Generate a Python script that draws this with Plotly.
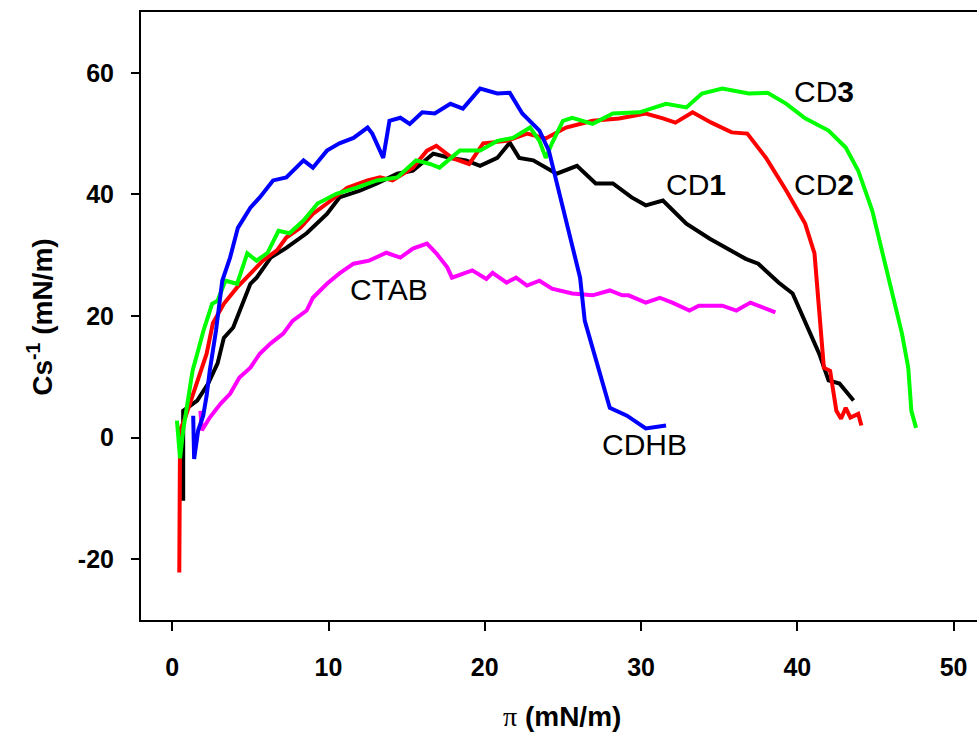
import plotly.graph_objects as go

# ---- data ----
cd1_x = [0.7, 0.7, 0.7, 1.6, 2.3, 2.9, 3.3, 3.9, 4.5, 5.0, 5.4, 6.3, 7.3, 8.6, 9.9, 10.7, 12.0, 13.1, 14.4, 15.4,
         16.7, 17.8, 18.8, 19.7, 20.8, 21.6, 22.2, 23.1, 24.6, 25.9, 27.1, 28.2, 29.4, 30.3, 31.4, 32.9, 34.4,
         36.7, 37.5, 38.8, 39.7, 40.5, 41.4, 42.0, 42.7, 43.6]
cd1_y = [-10.4, -3, 4.4, 6.1, 8.9, 12.2, 16.4, 18.1, 22, 25.3, 26.3, 29.6, 31.2, 33.6, 36.8, 39.5, 40.6, 41.8,
         43.4, 43.9, 46.7, 46, 45.6, 44.7, 46, 48.5, 46, 45.6, 43.4, 44.7, 41.8, 41.8, 39.5, 38.2, 39.0, 35.2,
         32.7, 29.4, 28.6, 25.5, 23.7, 19.2, 13.8, 9.4, 8.9, 6.1]

cd2_x = [0.45, 0.45, 0.5, 0.83, 1.6, 2.2, 2.6, 3.3, 4.15, 5.2, 5.8, 6.7, 7.3, 8.2, 9.0, 9.9, 11.2, 12.5, 13.3,
         14.1, 15.4, 16.3, 16.9, 17.9, 19.0, 19.9, 21.4, 22.7, 23.9, 25.2, 26.9, 28.6, 30.3, 31.4, 32.2, 33.3,
         34.5, 35.8, 36.8, 38.0, 39.3, 40.5, 41.1, 41.4, 41.7, 42.1, 42.5, 42.8, 43.1, 43.4, 43.9, 44.1]
cd2_y = [-22.2, -13.7, 1.2, 3.3, 9.4, 13.8, 18.8, 22, 24.7, 27.5, 29.1, 30.8, 32.9, 34.5, 36.8, 38.5, 41.1,
         42.3, 42.8, 42.3, 44.4, 47.2, 48.0, 46, 45, 48.4, 48.8, 50, 49.2, 51, 52.1, 52.5, 53.3, 52.5, 51.8,
         53.5, 51.8, 50.2, 50, 46, 40.6, 35.2, 30.3, 20.9, 11.5, 11, 4.4, 3.1, 4.9, 3.3, 3.9, 2.0]

cd3_x = [0.3, 0.5, 0.7, 1.3, 1.6, 2.0, 2.55, 2.9, 3.4, 4.15, 4.8, 5.4, 6.1, 6.8, 7.5, 8.4, 9.3, 10.5, 11.8,
         13.1, 14.4, 15.6, 16.5, 17.1, 18.4, 19.7, 20.8, 21.8, 22.9, 23.5, 23.9, 24.3, 25.0, 25.6, 26.9, 28.2,
         29.9, 31.6, 32.9, 33.9, 35.2, 36.9, 38.1, 39.3, 40.5, 42.0, 43.1, 43.9, 44.8, 45.8, 46.7, 47.1, 47.3, 47.6]
cd3_y = [2.8, -3.4, 1.2, 11, 13.8, 17.6, 22, 22.5, 25.8, 25.3, 30.3, 29.1, 30.4, 34, 33.6, 35.7, 38.5, 40.1,
         41.1, 42.3, 42.8, 45.6, 45, 44.4, 47.2, 47.2, 48.8, 49.3, 51, 48.8, 46, 48.4, 52.1, 52.6, 51.6, 53.3,
         53.5, 54.9, 54.3, 56.6, 57.4, 56.6, 56.7, 54.9, 52.5, 50.5, 47.7, 43.9, 37.3, 26.3, 17.1, 11.5, 4.4, 1.6]

cdhb_x = [1.34, 1.4, 1.66, 1.98, 2.2, 2.4, 2.8, 3.2, 3.7, 4.2, 5.0, 5.6, 6.45, 7.3, 8.4, 9.0, 9.9, 10.7, 11.6,
          12.5, 12.8, 13.5, 13.9, 14.6, 15.2, 16.0, 16.8, 17.8, 18.6, 19.7, 20.8, 21.6, 22.4, 23.5, 24.1, 24.8,
          25.4, 26.1, 26.4, 27.1, 28.0, 29.1, 30.3, 31.6]
cdhb_y = [3.6, -3.5, 1.2, 3.6, 6.9, 11, 17.6, 25.8, 29.6, 34.5, 37.8, 39.5, 42.3, 42.8, 45.6, 44.4, 47.2, 48.4,
          49.3, 51, 50, 46, 52.1, 52.6, 51.6, 53.5, 53.3, 54.9, 54.1, 57.4, 56.6, 56.7, 53.3, 50.5, 47.2, 40.1,
          33.6, 26.3, 19.2, 12.7, 4.9, 3.6, 1.5, 2.0]

ctab_x = [1.8, 1.9, 2.4, 3.1, 3.7, 4.3, 5.0, 5.6, 6.3, 7.1, 7.7, 8.6, 9.0, 9.9, 10.7, 11.6, 12.6, 13.7, 14.6,
          15.4, 16.3, 16.9, 17.6, 17.9, 19.2, 20.1, 20.5, 21.4, 22.0, 22.7, 23.5, 24.3, 25.6, 26.9, 28.0, 28.8,
          29.2, 30.3, 31.2, 32.0, 33.1, 33.7, 35.2, 36.1, 37.0, 38.6]
ctab_y = [4.4, 1.2, 3.3, 5.6, 7.2, 9.9, 11.5, 13.8, 15.5, 17.1, 19.2, 20.9, 23, 25.3, 27, 28.6, 29.1, 30.4,
          29.6, 31.1, 31.9, 30.3, 28, 26.3, 27.5, 26.1, 27.1, 25.5, 26.3, 25, 25.8, 24.5, 23.7, 23.4, 24.2,
          23.4, 23.4, 22.2, 23, 22.2, 20.9, 21.7, 21.7, 20.9, 22.2, 20.6]

x_ticks = [0, 10, 20, 30, 40, 50]
x_ticktext = ["0", "10", "20", "30", "40", "50"]
y_ticks = [-20, 0, 20, 40, 60]
y_ticktext = ["-20", "0", "20", "40", "60"]

labels = ["CD<b>3</b>", "CD<b>2</b>", "CD<b>1</b>", "CTAB", "CDHB"]
label_x = [41.7, 41.7, 33.5, 13.85, 30.2]
label_y = [56.9, 41.6, 41.6, 24.3, -1.15]

FONT = "Arial, Liberation Sans, sans-serif"

fig = go.Figure()
series = [
    ("CD1", cd1_x, cd1_y, "#000000"),
    ("CD2", cd2_x, cd2_y, "#ff0000"),
    ("CD3", cd3_x, cd3_y, "#00ff00"),
    ("CTAB", ctab_x, ctab_y, "#ff00ff"),
    ("CDHB", cdhb_x, cdhb_y, "#0000ff"),
]
for name, xs, ys, col in series:
    fig.add_trace(go.Scatter(x=xs, y=ys, mode="lines", name=name,
                             line=dict(color=col, width=4), showlegend=False))

for t, lx, ly in zip(labels, label_x, label_y):
    fig.add_annotation(x=lx, y=ly, text=t, showarrow=False,
                       font=dict(family=FONT, size=30, color="black"),
                       xanchor="center", yanchor="middle")

# axis titles
fig.add_annotation(xref="paper", yref="paper", x=0.5036, y=-0.158,
                   text="<span style='font-family:Liberation Serif, Times New Roman, serif'>π</span> <b>(mN/m)</b>",
                   showarrow=False,
                   font=dict(family=FONT, size=28, color="black"),
                   xanchor="center", yanchor="middle")
fig.add_annotation(xref="paper", yref="paper", x=-0.1208, y=0.497,
                   text="<b>Cs<sup>-1</sup> (mN/m)</b>", showarrow=False, textangle=-90,
                   font=dict(family=FONT, size=28, color="black"),
                   xanchor="center", yanchor="middle")

fig.update_layout(
    width=977, height=738,
    margin=dict(l=141, r=0, t=12, b=118),
    paper_bgcolor="white", plot_bgcolor="white",
    xaxis=dict(range=[-2, 51.5], tickvals=x_ticks, ticktext=x_ticktext, ticks="outside", ticklen=9,
               tickwidth=2, tickcolor="black", showline=True, linewidth=2, linecolor="black", mirror=True,
               showgrid=False, zeroline=False, ticklabelstandoff=15,
               tickfont=dict(family=FONT, size=25, color="black", weight="bold")),
    yaxis=dict(range=[-30, 70], tickvals=y_ticks, ticktext=y_ticktext, ticks="outside", ticklen=8,
               tickwidth=2, tickcolor="black", showline=True, linewidth=2, linecolor="black", mirror=False,
               showgrid=False, zeroline=False, ticklabelstandoff=12,
               tickfont=dict(family=FONT, size=25, color="black", weight="bold")),
)

fig.write_html("out.html", config={"displayModeBar": False},
               post_script="document.body.style.margin='0';")
